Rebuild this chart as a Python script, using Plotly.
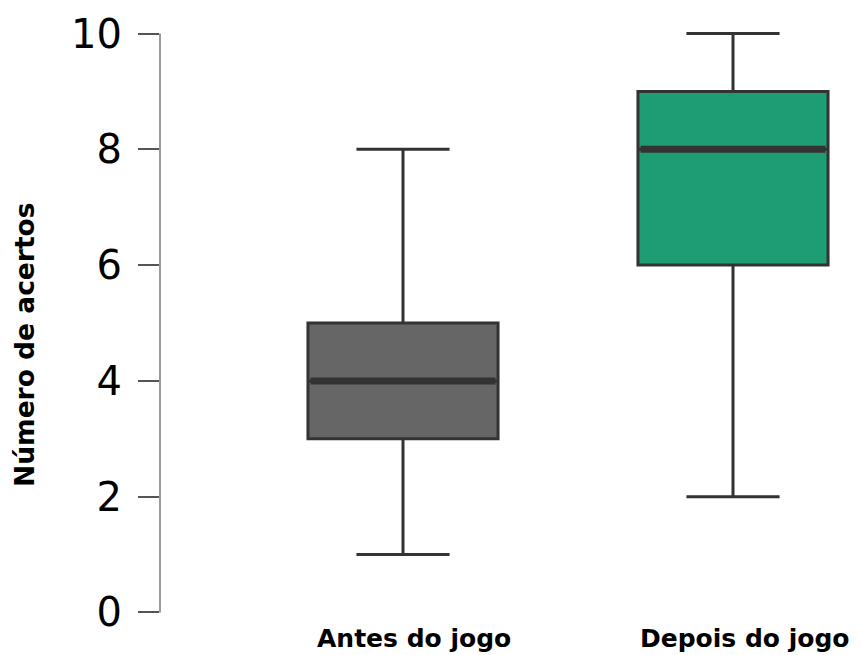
import plotly.graph_objects as go

categories = ["Antes do jogo", "Depois do jogo"]
lower = [1, 2]
q1 = [3, 6]
median = [4, 8]
q3 = [5, 9]
upper = [8, 10]
fill_colors = ["#666666", "#1e9c74"]
y_ticks = [0, 2, 4, 6, 8, 10]

FONT = "DejaVu Sans, sans-serif"
BOX_W = 0.576
LINE = "#333333"

# page body has an 8px margin, so the figure is 854x647 and placed at (8, 8)
W, H = 854, 647
L, R = 152, 0
PX_PER_UNIT = 57.8
T = 26 - 0.2 * PX_PER_UNIT
B = H - (604 + 0.2 * PX_PER_UNIT)
PLOT_W = W - L - R
LABEL_XSHIFT = [11, 12]

fig = go.Figure()
for i, cat in enumerate(categories):
    fig.add_trace(go.Box(
        x=[i], q1=[q1[i]], median=[median[i]], q3=[q3[i]],
        lowerfence=[lower[i]], upperfence=[upper[i]],
        width=BOX_W, whiskerwidth=0.49,
        fillcolor=fill_colors[i],
        line=dict(color=LINE, width=3),
        name=cat, showlegend=False, hoverinfo="skip",
    ))
    fig.add_trace(go.Scatter(
        x=[i - BOX_W / 2 + 0.008, i + BOX_W / 2 - 0.008], y=[median[i], median[i]],
        mode="lines", line=dict(color=LINE, width=7),
        showlegend=False, hoverinfo="skip",
    ))
    fig.add_annotation(text=f"<b>{cat}</b>", xref="x", yref="paper", x=i, y=0,
                       xanchor="center", yanchor="top", xshift=LABEL_XSHIFT[i], yshift=2,
                       showarrow=False,
                       font=dict(family=FONT, size=25, color="black"))

# R-style y axis line spanning only the tick range
fig.add_shape(type="line", xref="paper", yref="y", x0=0, x1=0,
              y0=min(y_ticks), y1=max(y_ticks),
              line=dict(color="#9a9a9a", width=2))

fig.add_annotation(text="<b>Número de acertos</b>", textangle=-90,
                   xref="paper", yref="y", x=(16 - L) / PLOT_W, y=(604 - 337) / PX_PER_UNIT,
                   xanchor="center", yanchor="middle", showarrow=False,
                   font=dict(family=FONT, size=26.5, color="black"))

fig.update_layout(
    width=W, height=H,
    margin=dict(l=L, r=R, t=T, b=B, pad=0),
    plot_bgcolor="white", paper_bgcolor="white",
    font=dict(family=FONT, color="black"),
    xaxis=dict(
        range=[(L - 395) / 330, (W - R - 395) / 330],
        showticklabels=False,
        showgrid=False, zeroline=False, showline=False, ticks="",
        automargin=False,
    ),
    yaxis=dict(
        range=[-0.2, 10.2], tickvals=y_ticks,
        tickfont=dict(family=FONT, size=40, color="black"),
        ticks="outside", ticklen=21, tickwidth=2, tickcolor="#555555",
        ticklabelstandoff=8,
        showgrid=False, zeroline=False, showline=False,
        automargin=False,
    ),
)

fig.write_html(
    "out.html",
    post_script="document.documentElement.style.overflow='hidden';document.body.style.overflow='hidden';",
)
